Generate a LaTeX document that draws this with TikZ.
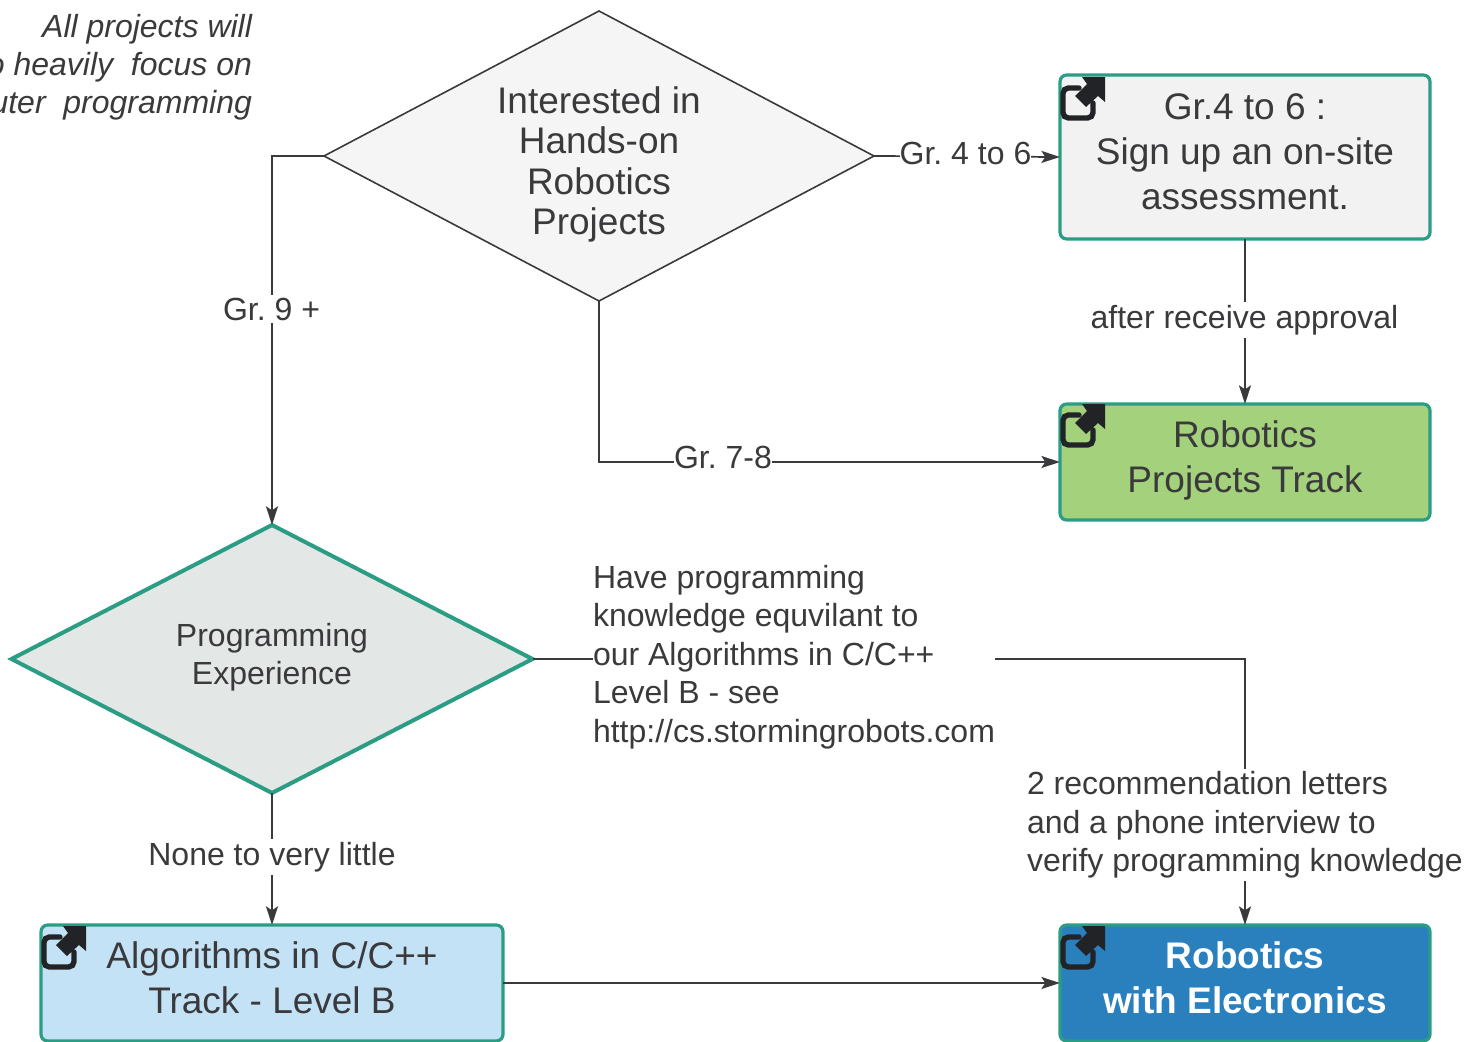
\documentclass[tikz,border=0pt]{standalone}
\usepackage{fontspec}
\setmainfont{Liberation Sans}
\usetikzlibrary{arrows.meta,shapes.geometric}
\definecolor{ink}{HTML}{3A3A3C}
\definecolor{teal}{HTML}{2A9D84}
\definecolor{iconink}{HTML}{222326}
\definecolor{dgrey}{HTML}{E3E7E6}
\definecolor{lgrey}{HTML}{F5F5F5}
\definecolor{bgrey}{HTML}{F2F2F2}
\definecolor{bgreen}{HTML}{A3D17C}
\definecolor{blight}{HTML}{C3E2F6}
\definecolor{bblue}{HTML}{2A7FBD}
\newcommand{\bigtext}{\fontsize{27.75pt}{33.75pt}\selectfont}
\newcommand{\midtext}{\fontsize{27.75pt}{30.4pt}\selectfont}
\newcommand{\smalltext}{\fontsize{24pt}{28.8pt}\selectfont}
\tikzset{
  x=0.75pt,y=-0.75pt,
  every node/.style={text=ink,inner sep=0pt,outer sep=0pt},
  box/.style={draw=teal,line width=2.4pt,rounded corners=5pt,minimum width=277.5pt,align=center,font=\bigtext,text depth=8pt},
  conn/.style={draw=ink,line width=1.3pt,-{Stealth[length=14pt,width=9pt,inset=3pt]}},
  lab/.style={fill=white,font=\smalltext,align=left,inner ysep=2pt},
  icon/.pic={
    \draw[iconink,line width=4pt,rounded corners=4pt,line cap=round] (19,12) -- (3,12) -- (3,42) -- (33,42) -- (33,27);
    \fill[iconink] (22,1) -- (45,1) -- (45,26) -- (38,20) -- (26,31) -- (15,20) -- (27,8) -- cycle;
  }
}
\begin{document}
\frenchspacing
\begin{tikzpicture}
\useasboundingbox (0,0) rectangle (1465,1042);
\node[diamond,draw=ink,line width=1.2pt,fill=lgrey,minimum width=412.5pt,minimum height=217.5pt,shape aspect=1.896,align=center,font=\midtext,text height=124pt] (d1) at (599,156) {Interested in\\Hands-on\\Robotics\\Projects};
\node[diamond,draw=teal,line width=3pt,fill=dgrey,minimum width=390.75pt,minimum height=201pt,shape aspect=1.944,align=center,font=\smalltext,text depth=8pt] (d2) at (272,659) {Programming\\Experience};
\node[box,fill=bgrey,minimum height=123pt] (b1) at (1245,157) {Gr.4 to 6 :\\Sign up an on-site\\assessment.};
\node[box,fill=bgreen,minimum height=87pt] (b2) at (1245,462) {Robotics\\Projects Track};
\node[box,fill=blight,minimum width=346.5pt,minimum height=87pt] (b3) at (272,983) {Algorithms in C/C++\\Track - Level B};
\node[box,fill=bblue,minimum height=87pt,text=white,font=\bigtext\bfseries] (b4) at (1245,983) {Robotics\\with Electronics};

\pic at (1060,76) {icon};
\pic at (1060,403) {icon};
\pic at (41,925) {icon};
\pic at (1060,925) {icon};

\draw[conn] (d1.east) -- (b1.west);
\draw[conn] (d1.west) -| (d2.north);
\draw[conn] (d1.south) |- (b2.west);
\draw[conn] (b1.south) -- (b2.north);
\draw[conn] (d2.south) -- (b3.north);
\draw[conn] (d2.east) -| (b4.north);
\draw[conn] (b3.east) -- (b4.west);

\begin{scope}
\clip (0,0) rectangle (1465,1042);
\node[font=\smalltext\itshape,align=right,anchor=north east] (note) at (252,14) {All projects will\\to heavily\ \ focus on\\computer\ \ programming};
\end{scope}
\node[lab] (l1) at (965.5,153) {Gr. 4 to 6};
\node[lab] (l2) at (271.5,309) {Gr. 9 +};
\node[lab] (l3) at (723,457) {Gr. 7-8};
\node[lab] (l4) at (1244.5,320) {after receive approval};
\node[lab,anchor=west] (l5) at (593,657) {Have programming\\knowledge equvilant to\\our Algorithms in C/C++\\Level B - see\\http://cs.stormingrobots.com};
\node[lab,anchor=west] (l6) at (1027,825) {2 recommendation letters\\and a phone interview to\\verify programming knowledge};
\node[lab] (l7) at (272,857) {None to very little};
\end{tikzpicture}
\end{document}
